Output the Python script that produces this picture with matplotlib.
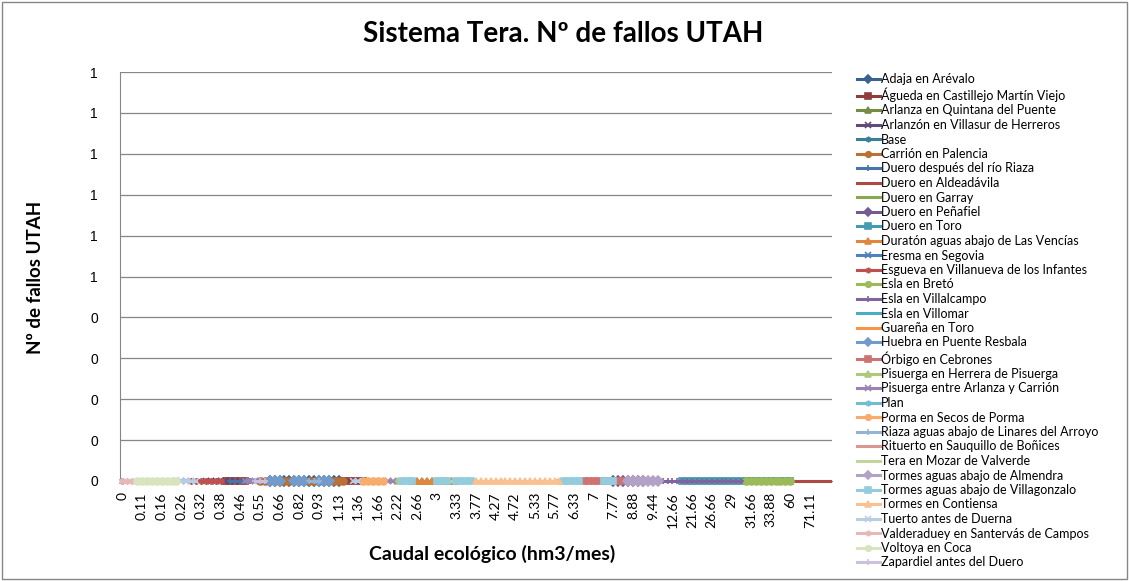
import numpy as np
import matplotlib
matplotlib.use("Agg")
import matplotlib.pyplot as plt
from matplotlib.ticker import FuncFormatter
from matplotlib.patches import Rectangle

# category axis labels (every 4th category is labelled)
x_labels = ['0', '0.11', '0.16', '0.26', '0.32', '0.38', '0.46', '0.55', '0.66', '0.82',
            '0.93', '1.13', '1.36', '1.66', '2.22', '2.66', '3', '3.33', '3.77', '4.27',
            '4.72', '5.33', '5.77', '6.33', '7', '7.77', '8.88', '9.44', '12.66', '21.66',
            '26.66', '29', '31.66', '33.88', '60', '71.11']
n_categories = 145
label_step = 4

series_names = [
    'Adaja en Arévalo', 'Águeda en Castillejo Martín Viejo', 'Arlanza en Quintana del Puente',
    'Arlanzón en Villasur de Herreros', 'Base', 'Carrión en Palencia',
    'Duero después del río Riaza', 'Duero en Aldeadávila', 'Duero en Garray',
    'Duero en Peñafiel', 'Duero en Toro', 'Duratón aguas abajo de Las Vencías',
    'Eresma en Segovia', 'Esgueva en Villanueva de los Infantes', 'Esla en Bretó',
    'Esla en Villalcampo', 'Esla en Villomar', 'Guareña en Toro',
    'Huebra en Puente Resbala', 'Órbigo en Cebrones', 'Pisuerga en Herrera de Pisuerga',
    'Pisuerga entre Arlanza y Carrión', 'Plan', 'Porma en Secos de Porma',
    'Riaza aguas abajo de Linares del Arroyo', 'Rituerto en Sauquillo de Boñices',
    'Tera en Mozar de Valverde', 'Tormes aguas abajo de Almendra',
    'Tormes aguas abajo de Villagonzalo', 'Tormes en Contiensa', 'Tuerto antes de Duerna',
    'Valderaduey en Santervás de Campos', 'Voltoya en Coca', 'Zapardiel antes del Duero']

# category rows (first, last) where each series has values; all values are 0 fallos
series_rows = [
    [(30, 44)], [(21, 25), (45, 49)], [(59, 68)], [(17, 22)], [(0, 0)], [(28, 45)],
    [(22, 27)], [(136, 144)], [(60, 66)], [(100, 106)], [(114, 136)], [(60, 67)],
    [(11, 13)], [(14, 20)], [(127, 136)], [(109, 126)], [(89, 90)], [(50, 54)],
    [(30, 32), (35, 37), (40, 42)], [(94, 106)], [(56, 57)], [(25, 28), (54, 55)],
    [(89, 90)], [(49, 53)], [(38, 40)], [(70, 72)], [(66, 69)], [(103, 109)],
    [(57, 59), (64, 66), (68, 71), (90, 93), (98, 100)], [(72, 89)], [(12, 15), (47, 48)],
    [(0, 3)], [(3, 11)], [(27, 29)]]
series_values = [0] * len(series_names)

base_colors = [(79, 129, 189), (192, 80, 77), (155, 187, 89),
               (128, 100, 162), (75, 172, 198), (247, 150, 70)]
shades = [-0.25, -0.1, 0.0, 0.2, 0.4, 0.6]
marker_cycle = ['D', 's', '^', 'x', (6, 2, 0), 'o', '+', '_', '_']


def shade(rgb, f):
    c = np.array(rgb) / 255.0
    if f < 0:
        return tuple(c * (1 + f))
    return tuple(c + (1 - c) * f)


plt.rcParams['font.family'] = ['Liberation Sans', 'DejaVu Sans']
calibri = ['Lato', 'DejaVu Sans']

fig = plt.figure(figsize=(11.29, 5.81), dpi=100)
ax = fig.add_axes([120 / 1129, 1 - 481 / 581, 712 / 1129, 409 / 581])

for i, name in enumerate(series_names):
    col = shade(base_colors[i % 6], shades[i // 6])
    mk = marker_cycle[i % 9]
    if name == 'Duero en Aldeadávila':
        mk = None
    for k, (a, b) in enumerate(series_rows[i]):
        xs = np.arange(a, b + 1)
        ys = np.full(len(xs), series_values[i])
        ax.plot(xs, ys, color=col, lw=2.2, marker=mk, markersize=5,
                markeredgewidth=1.2, label=name if k == 0 else None,
                clip_on=False, zorder=3)

ax.set_xlim(-0.5, n_categories - 0.5)
ax.set_ylim(0, 1)
ax.set_yticks(np.arange(0, 1.01, 0.1))
ax.yaxis.set_major_formatter(FuncFormatter(lambda v, p: '%d' % np.floor(v + 0.5 + 1e-9)))
ax.set_xticks(np.arange(0, len(x_labels) * label_step, label_step))
ax.set_xticklabels(x_labels, rotation=90, fontsize=10, family=calibri)
ax.tick_params(axis='y', length=0, labelsize=10, pad=16)
ax.tick_params(axis='x', length=0, pad=8)
ax.grid(axis='y', color='#868686', lw=0.9)
ax.set_axisbelow(True)
for s in ['top', 'right']:
    ax.spines[s].set_visible(False)
for s in ['left', 'bottom']:
    ax.spines[s].set_color('#868686')

fig.text(492 / 1129, 1 - 554 / 581, 'Caudal ecológico (hm3/mes)', ha='center', va='center',
         fontsize=14, fontweight='bold', family=calibri)
fig.text(36 / 1129, 1 - 277 / 581, 'Nº de fallos UTAH', ha='center', va='center',
         rotation=90, fontsize=13.5, fontweight='bold', family=calibri)
fig.text(563 / 1129, 1 - 34 / 581, 'Sistema Tera. Nº de fallos UTAH', ha='center',
         va='center', fontsize=20, fontweight='bold', family=calibri)

fig.legend(loc='upper left', bbox_to_anchor=(852 / 1129, 1 - 68 / 581), frameon=False,
           labelspacing=0.2, handlelength=1.8, handletextpad=0.1, markerscale=0.8,
           borderaxespad=0, prop={'family': calibri, 'size': 9})

fig.patches.append(Rectangle((2 / 1129, 2 / 581), 1125 / 1129, 577 / 581, fill=False,
                             edgecolor='#868686', lw=1, transform=fig.transFigure))

fig.savefig('out.png', dpi=100)
